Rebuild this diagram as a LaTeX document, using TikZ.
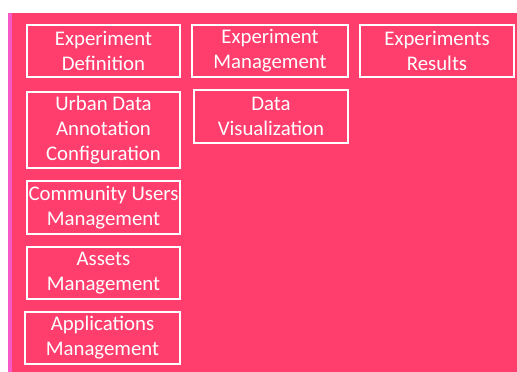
\documentclass[tikz,border=0pt]{standalone}
\usepackage{fontspec}
\setmainfont{Carlito}
\definecolor{bgpink}{RGB}{255,62,110}
\definecolor{strip}{RGB}{245,90,200}
\begin{document}
\begin{tikzpicture}[x=1pt,y=-1pt,
  box/.style={draw=white,line width=1.3pt,text=white,align=center,inner sep=0pt,
    font=\fontsize{20.8}{25}\selectfont},
]
\useasboundingbox (0,0) rectangle (517,372);
\fill[bgpink] (8,13) rectangle (517,372);
\fill[strip] (8,13) rectangle (11.5,372);
\newcommand{\boxat}[6]{%
  \node[box,minimum width={#4-#2},minimum height={#5-#3}] (#1) at ({(#2+#4)/2},{(#3+#5)/2}) {#6};}
\boxat{expdef}{27}{25}{180}{77}{Experiment\\Definition}
\boxat{urban}{27}{92}{180}{168}{Urban Data\\Annotation\\Configuration}
\boxat{community}{27}{181}{180}{234}{Community Users\\Management}
\boxat{assets}{27}{247}{180}{299}{Assets\\Management}
\boxat{apps}{25}{312}{180}{364}{Applications\\Management}
\boxat{expmgmt}{192}{25}{348}{77}{Experiment\\Management}
\boxat{expres}{360}{25}{514}{77}{Experiments\\Results}
\boxat{dataviz}{194}{90}{348}{143}{Data\\Visualization}
\end{tikzpicture}
\end{document}
